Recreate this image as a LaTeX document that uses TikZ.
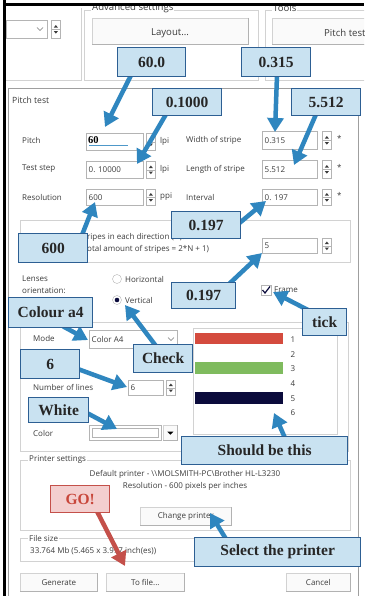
\documentclass[tikz,border=0pt]{standalone}
\usepackage{fontspec}
\setmainfont{Liberation Serif}
\newfontfamily\uifont{Open Sans}
\usetikzlibrary{arrows.meta,calc}
\pgfdeclarelayer{fg}
\pgfsetlayers{main,fg}
\definecolor{uitext}{HTML}{3C3C3C}
\definecolor{grp}{HTML}{D2D2D2}
\definecolor{fld}{HTML}{B4B4B4}
\definecolor{cfill}{HTML}{C9E2F1}
\definecolor{cline}{HTML}{2D5F93}
\definecolor{arrblue}{HTML}{2F86BF}
\definecolor{gofill}{HTML}{F3CFCF}
\definecolor{goline}{HTML}{C4504A}
\definecolor{gotext}{HTML}{C8463A}
\definecolor{stripered}{HTML}{D44B3E}
\definecolor{stripegreen}{HTML}{7FBB5E}
\definecolor{stripenavy}{HTML}{0B0B3C}
\tikzset{
 ui/.style={font=\uifont\fontsize{8}{9}\selectfont, text=uitext, inner sep=0pt},
 uil/.style={ui, anchor=west},
 uibig/.style={font=\uifont\fontsize{9.6}{11}\selectfont, text=uitext, inner sep=0pt, anchor=west},
 grpbox/.style={draw=grp, line width=0.8},
 grplabel/.style={ui, anchor=west, fill=white, inner sep=1pt},
 fieldbox/.style={draw=fld, fill=white, line width=0.7, inner sep=0, anchor=north west},
 btn/.style={draw=grp, fill=gray!4, line width=0.7, inner sep=0, anchor=north west},
 callout/.style={draw=cline, line width=1.3, fill=cfill, font=\bfseries\fontsize{15.5}{17}\selectfont, text=black!85, inner sep=0, anchor=north west},
 gocallout/.style={callout, draw=goline, fill=gofill, text=gotext},
 arr/.style={draw=arrblue, line width=4.5, -{Triangle[length=14pt,width=16pt]}},
 goarr/.style={arr, draw=goline}
}
\newcommand\uifield[6]{%
 \node[fieldbox, minimum width=#4pt, minimum height=#5pt] (#1) at (#2,#3) {};
 \node[uil] (#1-t) at ([xshift=2.5pt]#1.west) {#6};}
\newcommand\spinbox[4]{%
 \node[fieldbox, minimum width=9pt, minimum height=#4pt] (#1) at (#2,#3) {};
 \draw[fld, line width=0.4] (#1.west) -- (#1.east);
 \fill[uitext] ($(#1.center)+(-2,-1.8)$) -- ++(4,0) -- ++(-2,-2.5) -- cycle;
 \fill[uitext] ($(#1.center)+(-2,1.8)$) -- ++(4,0) -- ++(-2,2.5) -- cycle;}
\newcommand\uibutton[6]{%
 \node[btn, minimum width=#4pt, minimum height=#5pt, ui] (#1) at (#2,#3) {};
 \node[ui] (#1-t) at (#1.center) {#6};
 \draw[gray!60, line width=0.8] (#1.north east) -- (#1.south east) -- (#1.south west);}
\begin{document}
\begin{tikzpicture}[x=1pt,y=-1pt]
\useasboundingbox (0,0) rectangle (364,596);
\fill[white] (0,0) rectangle (364,596);
% ---------- top part
\begin{scope}
\clip (5,6) rectangle (364,596);
\draw[grpbox] (6,80) -- (81,80) -- (81,8);
\node[fieldbox, minimum width=41, minimum height=18] (topcombo) at (6,20) {};
\draw[uitext!70, line width=0.6] (37,27.5) -- (40,30.5) -- (43,27.5);
\spinbox{topspin}{51}{20}{18}
\draw[grpbox] (84,10) rectangle (258,80);
\node[grplabel, font=\uifont\fontsize{9.6}{11}\selectfont] (advlbl) at (91,8) {Advanced settings};
\uibutton{blayout}{92}{18}{156}{26}{}
\node[uibig, anchor=center] (blayout-l) at (170,33) {Layout...};
\draw[grpbox] (265,10) rectangle (370,80);
\node[grplabel, font=\uifont\fontsize{9.6}{11}\selectfont] (toolslbl) at (272,8) {Tools};
\uibutton{bpitch}{272}{18}{100}{26}{}
\node[uibig] (bpitch-l) at (324,33) {Pitch test};
\end{scope}
\draw[line width=3, black] (4.5,0) -- (4.5,596);
\draw[line width=2.2, black] (3,4.5) -- (364,4.5);
% ---------- pitch test panel
\draw[gray!75, line width=0.9] (8,600) -- (8,88) -- (358,88) -- (358,600);
\node[uil, font=\uifont\fontsize{8.6}{10}\selectfont] (ptlbl) at (12,100) {Pitch test};
% row 1
\node[uil] (lpitch) at (22,141) {Pitch};
\uifield{fpitch}{86}{133}{57}{17}{}
\node[anchor=west, font=\bfseries\fontsize{10.5}{11}\selectfont, inner sep=0] (vpitch) at (88,140) {60};
\draw[arrblue!85, line width=1] (89,146) -- (128,146);
\spinbox{spitch}{146}{133}{17}
\node[uil] (upitch) at (160,141) {lpi};
\node[uil] (lwidth) at (186,140) {Width of stripe};
\uifield{fwidth}{262}{131}{55}{18}{0.315}
\spinbox{swidth}{322}{131}{18}
\node[uil] (uwidth) at (337,138) {*};
% row 2
\node[uil] (lstep) at (22,169) {Test step};
\uifield{fstep}{86}{161}{57}{17}{0. 10000}
\spinbox{sstep}{146}{161}{17}
\node[uil] (ustep) at (160,169) {lpi};
\node[uil] (llength) at (186,169) {Length of stripe};
\uifield{flength}{262}{160}{55}{18}{5.512}
\spinbox{slength}{322}{160}{18}
\node[uil] (ulength) at (337,167) {*};
% row 3
\node[uil] (lres) at (22,197) {Resolution};
\uifield{fres}{86}{189}{57}{16}{600}
\spinbox{sres}{146}{189}{16}
\node[uil] (ures) at (160,197) {ppi};
\node[uil] (lint) at (186,197) {Interval};
\uifield{fint}{262}{189}{55}{16}{0. 197}
\spinbox{sint}{322}{189}{16}
\node[uil] (uint) at (337,195) {*};
% stripes group
\draw[grpbox] (20,220) rectangle (350,262);
\node[uil] (nstr1) at (87,237) {ripes in each direction (N):};
\node[uil] (nstr2) at (87,249) {otal amount of stripes = 2*N + 1)};
\uifield{fn}{262}{238}{55}{15}{5}
\spinbox{sn}{322}{238}{15}
% lenses
\node[uil] (llens1) at (22,279) {Lenses};
\node[uil] (llens2) at (22,291) {orientation:};
\node[circle, draw=fld, fill=white, minimum size=9, inner sep=0] (rhor) at (117,279) {};
\node[circle, draw=fld, fill=white, minimum size=9, inner sep=0] (rver) at (117,300) {};
\fill[stripenavy] (rver.center) circle (2.3);
\node[uil] (lhor) at (125,279) {Horizontal};
\node[uil] (lver) at (125,300) {Vertical};
\node[fieldbox, anchor=center, minimum width=10, minimum height=10] (cbframe) at (266,290) {};
\draw[stripenavy, line width=1.2] (262.5,290) -- (265,293) -- (270,286.5);
\node[uil] (lframe) at (274,290) {Frame};
% colour group
\draw[grpbox] (20,322) rectangle (348,451);
\node[uil] (lmode) at (33,338) {Mode};
\uifield{fmode}{89}{330}{88}{18}{Color A4}
\draw[uitext!70, line width=0.6] (168,337.5) -- (171,340.5) -- (174,337.5);
\node[fieldbox, draw=grp, minimum width=144, minimum height=106] (preview) at (193,328) {};
\node[fill=stripered, minimum width=88, minimum height=11, inner sep=0, anchor=north west] (st1) at (195,333) {};
\node[fill=stripegreen, minimum width=88, minimum height=12, inner sep=0, anchor=north west] (st3) at (195,362) {};
\node[fill=stripenavy, minimum width=88, minimum height=12, inner sep=0, anchor=north west] (st5) at (195,392) {};
\node[ui] (n1) at (293,340) {1};
\node[ui] (n2) at (293,355) {2};
\node[ui] (n3) at (293,369) {3};
\node[ui] (n4) at (293,384) {4};
\node[ui] (n5) at (293,399) {5};
\node[ui] (n6) at (293,413) {6};
\node[uil] (llines) at (33,387) {Number of lines};
\uifield{flines}{128}{380}{35}{15}{6}
\spinbox{slines}{166}{380}{15}
\node[uil] (lcolor) at (33,433) {Color};
\node[fieldbox, minimum width=72, minimum height=15] (fcolor) at (89,425) {};
\draw[fld, line width=0.5] (92,428) rectangle (158,437);
\node[btn, minimum width=14, minimum height=15] (dcolor) at (163,425) {};
\draw[gray!60, line width=0.8] (dcolor.north east) -- (dcolor.south east) -- (dcolor.south west);
\fill[black] ($(dcolor.center)+(-3,-1.2)$) -- ++(6,0) -- ++(-3,3) -- cycle;
% printer settings
\draw[grpbox] (20,460) rectangle (350,530);
\node[grplabel] (lprinter) at (28,460) {Printer settings};
\node[ui] (printer1) at (185,474) {Default printer - \textbackslash\textbackslash MOLSMITH-PC\textbackslash Brother HL-L3230};
\node[ui] (printer2) at (185,486) {Resolution - 600 pixels per inches};
\uibutton{bchange}{140}{507}{91}{18}{Change printer}
% file size
\draw[grpbox] (20,538) rectangle (350,561);
\node[grplabel] (lfile) at (28,538) {File size};
\node[uil] (fsize) at (30,551) {33.764 Mb (5.465 x 3.997 inch(es))};
\uibutton{bgen}{20}{573}{77}{18}{Generate}
\uibutton{btofile}{106}{573}{78}{18}{To file...}
\uibutton{bcancel}{286}{573}{64}{18}{Cancel}
% ---------- callouts
\begin{pgfonlayer}{fg}
\node[callout, minimum width=68, minimum height=29] (c60) at (117,47) {60.0};
\node[callout, minimum width=69, minimum height=29] (c315) at (241,47) {0.315};
\node[callout, minimum width=69, minimum height=27] (c1000) at (152,88) {0.1000};
\node[callout, minimum width=69, minimum height=27] (c5512) at (291,88) {5.512};
\node[callout, minimum width=69, minimum height=29] (c600) at (18,233) {600};
\node[callout, minimum width=69, minimum height=27] (c197a) at (171,211) {0.197};
\node[callout, minimum width=64, minimum height=26] (c197b) at (171,282) {0.197};
\node[callout, minimum width=44, minimum height=27] (ctick) at (302,308) {tick};
\node[callout, minimum width=84, minimum height=30] (ccolour) at (8,297) {Colour a4};
\node[callout, minimum width=59, minimum height=28] (ccheck) at (133,344) {Check};
\node[callout, minimum width=59, minimum height=29] (csix) at (20,349) {6};
\node[callout, minimum width=60, minimum height=25] (cwhite) at (28,397) {White};
\node[callout, minimum width=166, minimum height=28] (cshould) at (181,436) {Should be this};
\node[gocallout, minimum width=59, minimum height=27] (cgo) at (50,485) {GO!};
\node[callout, minimum width=166, minimum height=29] (cselect) at (194,537) {Select the printer};
\end{pgfonlayer}
% ---------- arrow tips
\coordinate (t60) at (105,127);
\coordinate (t315) at (275,132);
\coordinate (t1000) at (137,164);
\coordinate (t5512) at (294,165);
\coordinate (t600) at (95,202);
\coordinate (t197a) at (266,201);
\coordinate (t197b) at (262,253);
\coordinate (ttick) at (273,292);
\coordinate (tcolour) at (88,340);
\coordinate (tcheck) at (125,305);
\coordinate (tsix) at (127,387);
\coordinate (twhite) at (117,429);
\coordinate (tshould) at (274,413);
\coordinate (tgo) at (125,566);
\coordinate (tselect) at (210,513);
% ---------- arrows
\draw[arr] ([xshift=14pt,yshift=2pt]c60.south west) -- (t60);
\draw[arr] ([xshift=36pt,yshift=2pt]c315.south west) -- (t315);
\draw[arr] ([xshift=14pt,yshift=2pt]c1000.south west) -- (t1000);
\draw[arr] ([xshift=25pt,yshift=2pt]c5512.south west) -- (t5512);
\draw[arr] ([xshift=64pt,yshift=-2pt]c600.north west) -- (t600);
\draw[arr] ([xshift=-2pt,yshift=2pt]c197a.east) -- (t197a);
\draw[arr] ([xshift=58pt,yshift=-2pt]c197b.north west) -- (t197b);
\draw[arr] ([xshift=6pt,yshift=-2pt]ctick.north west) -- (ttick);
\draw[arr] ([xshift=55pt,yshift=2pt]ccolour.south west) -- (tcolour);
\draw[arr] ([xshift=23pt,yshift=-2pt]ccheck.north west) -- (tcheck);
\draw[arr] ([xshift=-2pt,yshift=-5pt]csix.east) -- (tsix);
\draw[arr] ([xshift=-2pt,yshift=-3pt]cwhite.east) -- (twhite);
\draw[arr] ([xshift=104pt,yshift=-2pt]cshould.north west) -- (tshould);
\draw[goarr] ([xshift=47pt,yshift=2pt]cgo.south west) -- (tgo);
\draw[arr] ([xshift=32pt,yshift=-2pt]cselect.north west) -- (tselect);
\end{tikzpicture}
\end{document}
